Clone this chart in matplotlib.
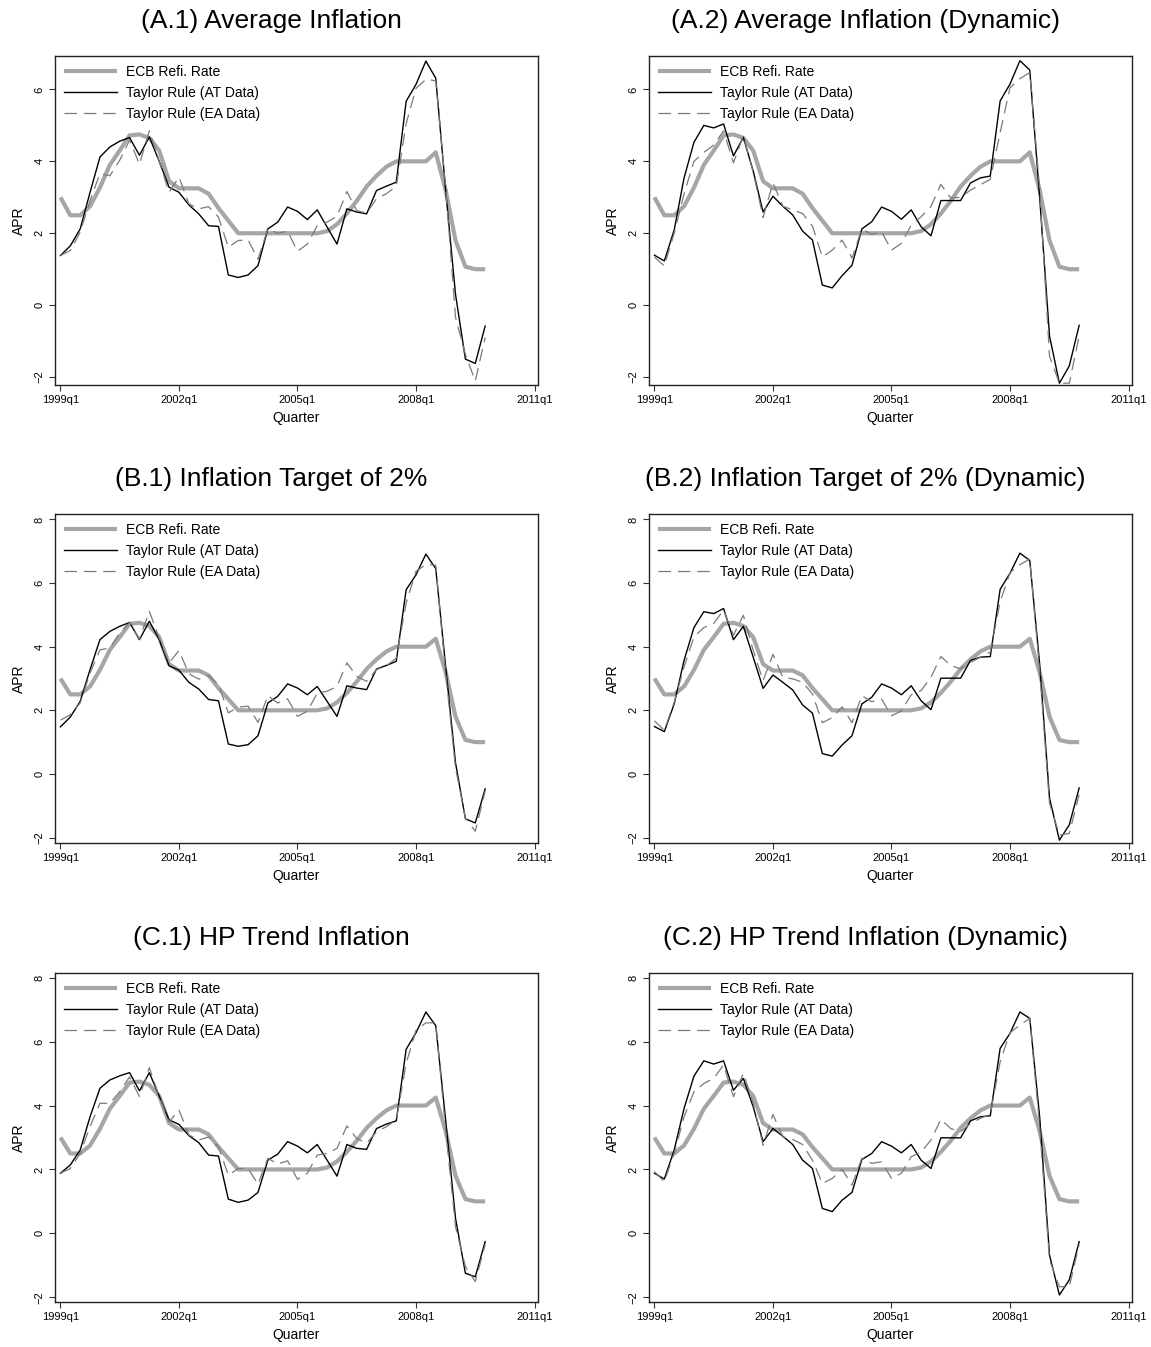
import matplotlib
matplotlib.use("Agg")
import matplotlib.pyplot as plt
import numpy as np

plt.rcParams['font.family'] = ['Liberation Sans', 'DejaVu Sans']

# Quarters 1999q1 .. 2009q4
quarters = [f"{y}q{q}" for y in range(1999, 2010) for q in range(1, 5)]
tick_pos = [0, 12, 24, 36, 48]
tick_labels = ["1999q1", "2002q1", "2005q1", "2008q1", "2011q1"]

ecb_rate = [3.0, 2.5, 2.5, 2.75, 3.27, 3.9, 4.3, 4.72, 4.75, 4.65, 4.3, 3.45,
            3.25, 3.25, 3.25, 3.1, 2.7, 2.35, 2.0, 2.0, 2.0, 2.0, 2.0, 2.0,
            2.0, 2.0, 2.0, 2.06, 2.25, 2.55, 2.9, 3.3, 3.6, 3.85, 4.0, 4.0,
            4.0, 4.0, 4.25, 3.2, 1.8, 1.07, 1.0, 1.0]

at_a1 = [1.38, 1.65, 2.12, 3.14, 4.12, 4.4, 4.56, 4.66, 4.17, 4.68, 4.0, 3.28,
         3.14, 2.79, 2.54, 2.21, 2.19, 0.84, 0.77, 0.84, 1.1, 2.12, 2.31, 2.73,
         2.61, 2.38, 2.65, 2.17, 1.7, 2.68, 2.59, 2.54, 3.19, 3.31, 3.42, 5.67,
         6.14, 6.79, 6.31, 3.2, 0.3, -1.5, -1.62, -0.58]
ea_a1 = [1.38, 1.52, 2.03, 2.91, 3.66, 3.6, 4.03, 4.59, 3.92, 4.85, 4.0, 3.14,
         3.56, 2.82, 2.68, 2.74, 2.45, 1.61, 1.8, 1.81, 1.28, 2.12, 2.0, 2.06,
         1.5, 1.7, 2.21, 2.31, 2.47, 3.16, 2.63, 2.56, 2.96, 3.1, 3.31, 5.05,
         6.03, 6.28, 6.24, 3.28, -0.34, -1.37, -2.11, -0.9]

at_a2 = [1.39, 1.23, 2.09, 3.54, 4.53, 5.0, 4.93, 5.04, 4.15, 4.67, 3.73, 2.59,
         3.03, 2.75, 2.51, 2.06, 1.81, 0.56, 0.48, 0.82, 1.11, 2.12, 2.32, 2.73,
         2.61, 2.39, 2.65, 2.18, 1.93, 2.91, 2.91, 2.91, 3.4, 3.54, 3.59, 5.68,
         6.15, 6.8, 6.54, 3.0, -0.86, -2.17, -1.69, -0.56]
ea_a2 = [1.34, 1.09, 2.0, 3.1, 4.0, 4.25, 4.45, 4.85, 3.96, 4.71, 3.7, 2.44,
         3.4, 2.75, 2.65, 2.55, 2.2, 1.34, 1.53, 1.81, 1.31, 2.12, 1.97, 2.04,
         1.53, 1.72, 2.23, 2.46, 2.75, 3.36, 2.98, 3.0, 3.2, 3.35, 3.5, 4.8,
         6.05, 6.3, 6.47, 3.26, -1.42, -2.17, -2.17, -0.86]

at_b1 = [1.48, 1.79, 2.28, 3.28, 4.22, 4.48, 4.64, 4.76, 4.22, 4.8, 4.22, 3.4,
         3.26, 2.88, 2.67, 2.34, 2.3, 0.94, 0.87, 0.92, 1.2, 2.23, 2.44, 2.83,
         2.7, 2.49, 2.75, 2.28, 1.81, 2.77, 2.7, 2.65, 3.3, 3.41, 3.54, 5.79,
         6.26, 6.91, 6.45, 3.38, 0.35, -1.41, -1.54, -0.47]
ea_b1 = [1.69, 1.86, 2.23, 3.17, 3.9, 3.96, 4.43, 4.76, 4.24, 5.11, 4.27, 3.49,
         3.88, 3.15, 2.98, 3.09, 2.81, 1.92, 2.1, 2.13, 1.62, 2.46, 2.23, 2.36,
         1.81, 1.97, 2.54, 2.6, 2.75, 3.49, 3.07, 2.91, 3.28, 3.4, 3.64, 5.37,
         6.37, 6.58, 6.56, 3.17, 0.19, -1.38, -1.8, -0.54]

at_b2 = [1.49, 1.33, 2.2, 3.57, 4.6, 5.1, 5.04, 5.2, 4.22, 4.64, 3.67, 2.69,
         3.11, 2.88, 2.64, 2.17, 1.91, 0.64, 0.56, 0.91, 1.2, 2.2, 2.41, 2.83,
         2.7, 2.49, 2.77, 2.3, 2.02, 3.01, 3.01, 3.01, 3.57, 3.67, 3.69, 5.8,
         6.31, 6.94, 6.71, 3.46, -0.76, -2.08, -1.6, -0.44]
ea_b2 = [1.67, 1.37, 2.25, 3.36, 4.31, 4.6, 4.73, 5.15, 4.36, 4.99, 3.88, 2.93,
         3.76, 3.04, 2.99, 2.88, 2.51, 1.61, 1.77, 2.11, 1.61, 2.46, 2.27, 2.35,
         1.83, 1.98, 2.49, 2.62, 3.04, 3.69, 3.41, 3.3, 3.51, 3.67, 3.83, 5.41,
         6.33, 6.58, 6.75, 3.25, -0.92, -1.92, -1.87, -0.65]

at_c1 = [1.88, 2.14, 2.61, 3.65, 4.54, 4.8, 4.93, 5.03, 4.46, 5.03, 4.3, 3.55,
         3.41, 3.06, 2.84, 2.45, 2.42, 1.07, 0.97, 1.04, 1.28, 2.29, 2.48, 2.87,
         2.73, 2.52, 2.78, 2.29, 1.79, 2.78, 2.66, 2.63, 3.28, 3.42, 3.52, 5.76,
         6.28, 6.93, 6.5, 3.55, 0.47, -1.25, -1.36, -0.26]
ea_c1 = [1.88, 2.03, 2.5, 3.34, 4.07, 4.07, 4.43, 4.9, 4.28, 5.19, 4.28, 3.49,
         3.86, 3.08, 2.92, 3.02, 2.71, 1.82, 2.03, 2.03, 1.54, 2.35, 2.17, 2.27,
         1.69, 1.88, 2.45, 2.5, 2.66, 3.36, 2.97, 2.82, 3.18, 3.34, 3.55, 5.32,
         6.36, 6.59, 6.59, 3.23, 0.21, -1.04, -1.51, -0.36]

at_c2 = [1.88, 1.7, 2.61, 3.91, 4.92, 5.4, 5.3, 5.4, 4.48, 4.85, 3.96, 2.87,
         3.28, 3.04, 2.78, 2.29, 2.03, 0.78, 0.68, 1.04, 1.28, 2.31, 2.5, 2.87,
         2.73, 2.52, 2.78, 2.29, 2.03, 2.99, 2.99, 2.99, 3.52, 3.65, 3.68, 5.79,
         6.26, 6.93, 6.73, 3.65, -0.68, -1.93, -1.46, -0.26]
ea_c2 = [1.93, 1.62, 2.5, 3.65, 4.43, 4.69, 4.85, 5.27, 4.28, 5.01, 4.07, 2.76,
         3.72, 3.02, 2.94, 2.78, 2.29, 1.56, 1.72, 2.0, 1.51, 2.35, 2.19, 2.24,
         1.72, 1.88, 2.4, 2.55, 2.92, 3.57, 3.28, 3.18, 3.44, 3.6, 3.73, 5.37,
         6.28, 6.52, 6.73, 3.34, -0.83, -1.67, -1.67, -0.36]

titles = ["(A.1) Average Inflation", "(A.2) Average Inflation (Dynamic)",
          "(B.1) Inflation Target of 2%", "(B.2) Inflation Target of 2% (Dynamic)",
          "(C.1) HP Trend Inflation", "(C.2) HP Trend Inflation (Dynamic)"]
at_series = [at_a1, at_a2, at_b1, at_b2, at_c1, at_c2]
ea_series = [ea_a1, ea_a2, ea_b1, ea_b2, ea_c1, ea_c2]
yticks_rows = [[-2, 0, 2, 4, 6], [-2, 0, 2, 4, 6, 8], [-2, 0, 2, 4, 6, 8]]
ylims_rows = [(-2.22, 6.93), (-2.17, 8.17), (-2.15, 8.15)]

W, H = 1151, 1347
fig = plt.figure(figsize=(W / 100, H / 100), dpi=100)

col_left = [55, 649]
col_w = 483
row_top = [56, 514, 973]
row_h = 329

x = np.arange(len(quarters))

for k in range(6):
    r, c = divmod(k, 2)
    ax = fig.add_axes([col_left[c] / W, 1 - (row_top[r] + row_h) / H,
                       col_w / W, row_h / H])
    ax.plot(x, ecb_rate, color='#a6a6a6', lw=3.0, solid_capstyle='butt',
            label='ECB Refi. Rate', zorder=2)
    ax.plot(x, at_series[k], color='black', lw=1.0, label='Taylor Rule (AT Data)', zorder=3)
    ax.plot(x, ea_series[k], color='#7a7a7a', lw=0.9, dashes=(10, 5.5),
            label='Taylor Rule (EA Data)', zorder=3)
    ax.set_xlim(-0.55, 48.35)
    ax.set_ylim(*ylims_rows[r])
    ax.set_xticks(tick_pos)
    ax.set_xticklabels(tick_labels, fontsize=8)
    ax.set_yticks(yticks_rows[r])
    ax.set_yticklabels([str(v).replace('-', '\u2212') for v in yticks_rows[r]],
                       fontsize=8, rotation=90, va='center')
    ax.tick_params(direction='out', length=4.5, width=0.8, color='#333333', pad=3)
    for s in ax.spines.values():
        s.set_linewidth(1.0)
        s.set_color('#222222')
    ax.set_xlabel('Quarter', fontsize=10, labelpad=4)
    ax.set_ylabel('APR', fontsize=10, labelpad=6)
    leg = ax.legend(loc='upper left', frameon=False, fontsize=10,
                    handlelength=3.8, handletextpad=0.65, labelspacing=0.5,
                    borderaxespad=0.25, borderpad=0.4)
    ax.annotate(titles[k], xy=(0.5, 1.0), xycoords='axes fraction',
                xytext=(-25 * 0.72, 35 * 0.72), textcoords='offset points',
                ha='center', va='center', fontsize=19)

fig.savefig('out.png', dpi=100)
